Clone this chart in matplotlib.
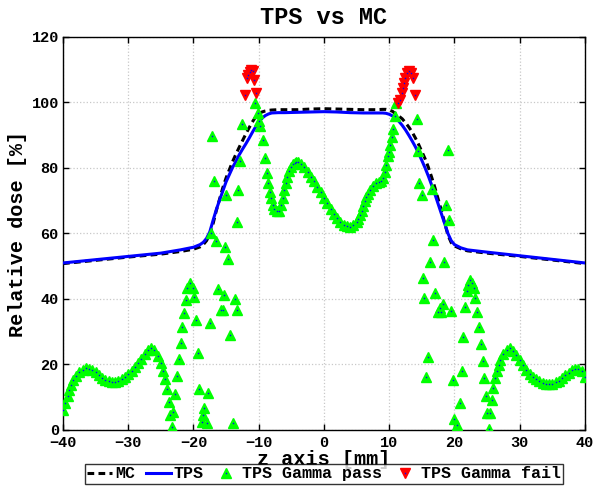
import numpy as np
import matplotlib
matplotlib.use('Agg')
import matplotlib.pyplot as plt
from matplotlib.legend_handler import HandlerTuple

plt.rcParams['font.family'] = ['Liberation Mono', 'DejaVu Sans Mono']
plt.rcParams['font.weight'] = 'bold'
plt.rcParams['axes.labelweight'] = 'bold'
plt.rcParams['axes.titleweight'] = 'bold'

# depth dose profiles (z in mm, dose in %)
z_dose = [-40, -35, -30, -25, -22, -20, -19, -18.5, -18, -17.5, -17, -16.5, -16, -15.5,
          -15, -14.5, -14, -13.5, -13, -12.5, -12, -11.5, -11, -10.5, -10, -9.5, -9,
          -8.5, -8, -7, -6, -4, -2, 0, 2, 4, 6, 8, 9, 9.5, 10, 10.5, 11, 11.5, 12,
          12.5, 13, 13.5, 14, 14.5, 15, 15.5, 16, 16.5, 17, 17.5, 18, 18.5, 19, 19.5,
          20, 21, 22, 25, 30, 35, 40]
tps = [51.0, 52.0, 53.0, 54.0, 55.0, 55.8, 56.6, 57.3, 58.5, 60.5, 64.0, 67.3, 70.2,
       73.0, 75.8, 78.0, 80.2, 82.0, 84.0, 85.7, 87.3, 89.0, 90.8, 92.5, 94.0, 95.2,
       96.0, 96.5, 96.8, 96.9, 96.9, 97.0, 97.1, 97.2, 97.1, 96.9, 96.8, 96.8, 96.8,
       96.7, 96.4, 95.9, 95.2, 94.2, 93.0, 91.6, 90.0, 88.3, 86.5, 84.5, 82.3, 80.0,
       77.5, 74.8, 72.0, 69.0, 66.0, 63.0, 60.0, 57.8, 56.6, 55.6, 55.0, 54.3, 53.2,
       52.1, 51.0]
mc = [50.8, 51.8, 52.8, 53.7, 54.5, 55.2, 55.9, 56.6, 57.8, 59.8, 63.0, 67.0, 70.5,
      74.0, 77.0, 79.5, 82.0, 84.2, 86.3, 88.3, 90.3, 92.2, 94.0, 95.5, 96.5, 97.1,
      97.4, 97.6, 97.7, 97.8, 97.8, 97.8, 98.0, 98.1, 98.0, 97.9, 97.8, 97.8, 97.9,
      97.9, 97.7, 97.3, 96.5, 95.8, 95.0, 93.8, 92.5, 91.0, 89.2, 87.2, 85.0, 82.8,
      80.2, 77.2, 74.0, 70.5, 67.0, 63.2, 59.5, 57.2, 56.2, 55.3, 54.7, 54.0, 53.0,
      51.9, 50.8]

# gamma pass points (green), read region by region
pass_left_z = [-40.0, -39.65, -39.3, -39.05, -38.8, -38.4, -38.0, -37.5, -37.0, -36.5,
               -36.0, -35.5, -35.0, -34.5, -34.0, -33.5, -33.0, -32.5, -32.0, -31.5,
               -31.0, -30.5, -30.0, -29.5, -29.0, -28.5, -28.0, -27.5, -27.0, -26.5,
               -26.0, -25.5, -25.0]
pass_left_g = [6.1, 8.3, 10.5, 12.2, 13.7, 15.3, 16.6, 17.7, 18.4, 18.8,
               18.7, 18.3, 17.6, 16.8, 16.0, 15.4, 15.0, 14.8, 14.8, 15.1,
               15.6, 16.3, 17.1, 18.0, 19.1, 20.4, 21.8, 23.2, 24.3, 25.0,
               24.3, 22.5, 20.4]
pass_ledge_z = [-24.6, -24.35, -24.1, -23.8, -23.6, -23.35, -23.1, -22.85, -22.55,
                -22.25, -21.95, -21.7, -21.45, -21.15, -21.0, -20.55, -20.1, -19.85,
                -19.6, -19.3, -19.1, -18.7, -18.6, -18.35, -17.9, -17.7, -17.45,
                -16.2, -15.4, -15.8, -15.5, -14.4, -13.65, -13.3, -13.95,
                -17.3, -16.5, -15.2, -14.7, -15.0, -13.2, -13.3, -12.85, -12.6,
                -17.1, -16.85]
pass_ledge_g = [18.0, 15.5, 12.4, 8.6, 4.5, 0.8, 5.6, 11.0, 16.4,
                21.6, 26.6, 31.4, 35.7, 39.8, 43.3, 44.8, 43.3, 40.7,
                33.7, 23.6, 12.5, 2.5, 4.6, 6.6, 2.0, 11.4, 32.8,
                43.0, 41.1, 36.6, 36.5, 29.1, 40.0, 36.7, 2.0,
                60.0, 57.8, 55.9, 52.2, 71.8, 73.2, 63.5, 82.2, 93.3,
                89.9, 76.1]
pass_mid_z = [-10.5, -10.15, -9.9, -9.75, -9.35, -9.1, -8.8, -8.55, -8.3, -8.05, -7.8,
              -7.6, -7.25, -6.9, -6.6, -6.35, -6.1, -5.85, -5.6, -5.35, -5.1,
              -4.75, -4.5, -4.25, -4.0, -3.5, -3.0, -2.5, -2.0, -1.5, -1.0, -0.5,
              0.0, 0.5, 1.0, 1.5, 2.0, 2.5, 3.0, 3.5, 4.0, 4.5, 5.0, 5.25, 5.5,
              5.75, 6.0, 6.25, 6.5, 6.75, 7.0, 7.5, 8.0, 8.5, 8.8, 9.1, 9.3, 9.5,
              9.75, 9.95, 10.15, 10.4, 10.6, 10.85, 11.0]
pass_mid_g = [99.8, 96.7, 94.5, 92.8, 88.5, 83.0, 78.4, 75.3, 72.8, 70.7, 68.8,
              67.5, 66.9, 66.9, 68.6, 70.8, 73.3, 75.5, 77.4, 79.0, 80.2,
              81.2, 81.6, 81.8, 81.7, 81.2, 80.2, 78.9, 77.4, 75.9, 74.3, 72.6,
              70.9, 69.2, 67.6, 66.0, 64.6, 63.4, 62.6, 62.2, 62.1, 62.5, 63.5, 64.3,
              65.5, 66.8, 68.3, 69.8, 71.0, 72.2, 73.2, 74.6, 75.3, 75.6, 75.9, 77.0,
              78.7, 80.8, 83.6, 85.0, 87.0, 89.6, 92.0, 95.8, 99.7]
pass_redge_z = [14.2, 14.4, 18.95, 14.6, 14.95, 16.5, 18.65, 19.15, 16.75, 16.25, 18.4,
                15.15, 15.4, 17.05, 18.2, 17.8, 17.4, 17.9, 19.5, 16.0, 15.65,
                19.7, 21.1, 20.8, 20.0, 20.4, 21.35, 21.6, 21.85, 22.1, 22.45, 22.75,
                22.95, 23.2, 23.5, 23.8, 24.1, 24.3, 24.55, 24.9, 25.05, 25.4, 25.3,
                25.7, 25.95, 26.2, 26.5, 26.75, 27.0]
pass_redge_g = [94.9, 85.2, 85.6, 75.5, 71.8, 73.5, 68.8, 64.1, 58.0, 51.4, 51.4,
                46.5, 40.4, 41.7, 38.4, 37.2, 36.1, 36.1, 36.3, 22.2, 16.3,
                15.4, 18.0, 8.1, 3.4, 1.4, 28.4, 37.7, 42.4, 44.3, 45.8, 45.0,
                43.5, 40.2, 36.0, 31.4, 26.3, 21.1, 15.8, 10.5, 5.3, 5.1, 0.3,
                9.2, 12.7, 15.8, 18.0, 19.8, 21.4]
pass_right_z = [27.5, 28.0, 28.5, 29.0, 29.5, 30.0, 30.5, 31.0, 31.5, 32.0, 32.5, 33.0,
                33.5, 34.0, 34.5, 35.0, 35.5, 36.0, 36.5, 37.0, 37.5, 38.0, 38.5,
                39.0, 39.5, 40.0]
pass_right_g = [23.2, 24.5, 24.9, 24.2, 22.9, 21.4, 19.8, 18.4, 17.2, 16.3, 15.5, 14.9,
                14.4, 14.1, 14.0, 14.1, 14.5, 15.1, 15.8, 16.7, 17.5, 18.2, 18.6,
                18.6, 17.9, 16.3]

# gamma fail points (red)
fail_z = [-12.1, -11.8, -11.6, -11.4, -11.2, -10.9, -10.7, -10.4,
          11.4, 11.65, 11.9, 12.05, 12.25, 12.45, 12.7, 13.0, 13.3, 13.6, 13.9]
fail_g = [102.3, 107.5, 108.5, 109.3, 109.8, 109.6, 107.0, 103.0,
          99.7, 100.9, 102.8, 104.3, 105.8, 107.4, 109.1, 109.6, 108.9, 107.4, 102.3]

pass_z = pass_left_z + pass_ledge_z + pass_mid_z + pass_redge_z + pass_right_z
pass_g = pass_left_g + pass_ledge_g + pass_mid_g + pass_redge_g + pass_right_g

fig = plt.figure(figsize=(5.96, 4.88), dpi=100)
ax = fig.add_axes([0.1057, 0.1189, 0.8758, 0.8053])

l_mc, = ax.plot(z_dose, mc, '--', color='k', lw=2.2, dashes=(2.2, 1.4), zorder=2)
l_tps, = ax.plot(z_dose, tps, '-', color='b', lw=2.2, zorder=3)
m_pass, = ax.plot(pass_z, pass_g, '^', color=(0, 1, 0), mec=(0, 1, 0), ms=7, ls='none', zorder=4)
d_pass, = ax.plot(pass_z, pass_g, 's', color='b', ms=1.0, mew=0, ls='none', zorder=5)
m_fail, = ax.plot(fail_z, fail_g, 'v', color='r', mec='r', ms=7, ls='none', zorder=6)
d_fail, = ax.plot(fail_z, fail_g, 's', color='b', ms=1.0, mew=0, ls='none', zorder=7)

ax.set_xlim(-40, 40)
ax.set_ylim(0, 120)
ax.set_xticks(np.arange(-40, 41, 10))
ax.set_yticks(np.arange(0, 121, 20))
ax.grid(True, ls=':', color='#c8c8c8', lw=0.9)
ax.tick_params(direction='in', top=True, right=True, length=4, width=1, labelsize=11)
ax.tick_params(axis='x', pad=4)
ax.tick_params(axis='y', pad=3)
for s in ax.spines.values():
    s.set_linewidth(1.0)

ax.set_title('TPS vs MC', fontsize=17, pad=9)
ax.set_xlabel('z axis [mm]', fontsize=14.5, labelpad=0)
ax.set_ylabel('Relative dose [%]', fontsize=14.5, labelpad=3)

leg = fig.legend([l_mc, l_tps, (m_pass, d_pass), (m_fail, d_fail)],
                 ['MC', 'TPS', 'TPS Gamma pass', 'TPS Gamma fail'],
                 handler_map={tuple: HandlerTuple(ndivide=1, pad=0)},
                 loc='center', bbox_to_anchor=(0.5436, 0.0287), ncol=4,
                 fontsize=12, frameon=True, fancybox=False, edgecolor='k',
                 handlelength=1.5, handletextpad=0.2, columnspacing=0.6,
                 borderpad=0.15, borderaxespad=0)
leg.get_frame().set_linewidth(1.0)

fig.savefig('out.png', dpi=100)
